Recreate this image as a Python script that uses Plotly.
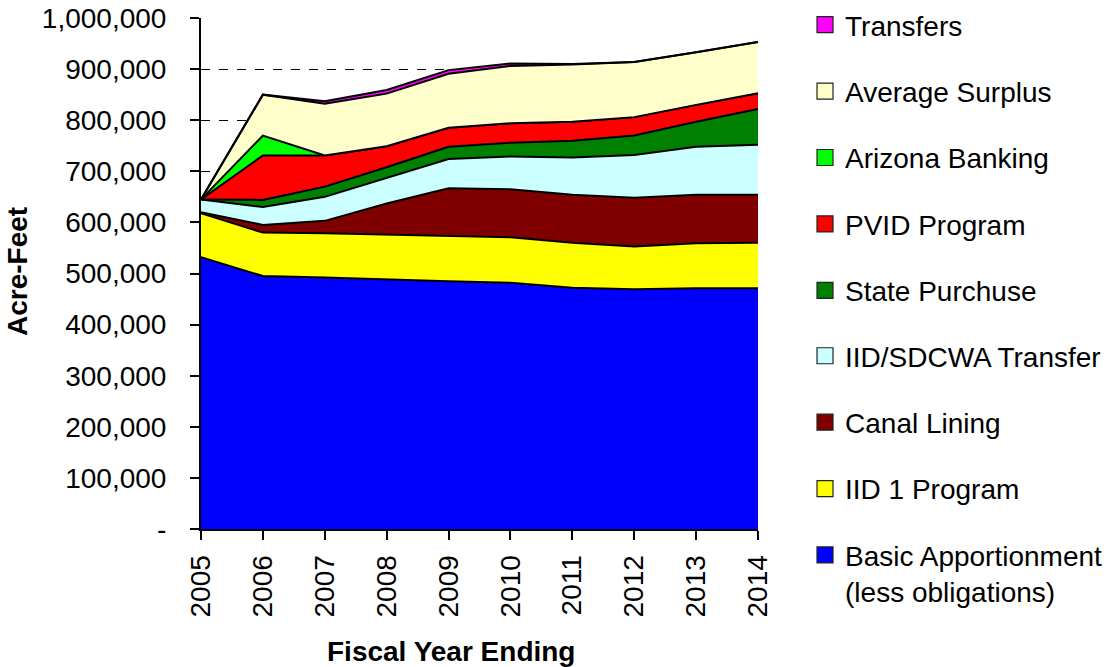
import plotly.graph_objects as go

years = [2005, 2006, 2007, 2008, 2009, 2010, 2011, 2012, 2013, 2014]

basic = [532000, 495000, 492000, 488000, 485000, 482000, 472000, 469000, 471000, 471000]
iid1 = [86000, 85000, 87000, 88000, 88000, 89000, 88000, 84000, 88000, 89000]
canal = [2000, 15000, 24000, 61000, 94000, 94000, 94000, 95000, 95000, 94000]
iid_sdcwa = [25000, 35000, 47000, 50000, 57000, 64000, 73000, 84000, 94000, 98000]
state_purchase = [0, 14000, 20000, 21000, 24000, 27000, 33000, 38000, 49000, 70000]
pvid = [0, 87000, 61000, 41000, 37000, 38000, 37000, 36000, 33000, 31000]
az_banking = [0, 39000, 0, 0, 0, 0, 0, 0, 0, 0]
avg_surplus = [0, 80000, 101000, 103000, 106000, 112000, 112000, 108000, 103000, 100000]
transfers = [0, 0, 5000, 7000, 7000, 5000, 1000, 0, 0, 0]

series_names = ["Basic Apportionment<br>(less obligations)", "IID 1 Program", "Canal Lining",
                "IID/SDCWA Transfer", "State Purchuse", "PVID Program", "Arizona Banking",
                "Average Surplus", "Transfers"]
series_values = [basic, iid1, canal, iid_sdcwa, state_purchase, pvid, az_banking, avg_surplus, transfers]
series_colors = ["#0000FF", "#FFFF00", "#800000", "#CCFFFF", "#008000", "#FF0000", "#00FF00",
                 "#FFFFCC", "#FF00FF"]

y_tickvals = [0, 100000, 200000, 300000, 400000, 500000, 600000, 700000, 800000, 900000, 1000000]
y_ticktext = ["-", "100,000", "200,000", "300,000", "400,000", "500,000", "600,000", "700,000",
              "800,000", "900,000", "1,000,000"]

FONT = "Liberation Sans, Arial, sans-serif"

fig = go.Figure()

for name, vals, col in zip(series_names, series_values, series_colors):
    fig.add_trace(go.Scatter(
        x=years, y=vals, name=name, mode="lines", stackgroup="one",
        line=dict(color="black", width=2), fillcolor=col, showlegend=False,
        hoverinfo="x+y+name",
    ))

# legend entries (square swatches), top to bottom, split across two legends
for i, (name, col) in enumerate(zip(series_names[::-1], series_colors[::-1])):
    fig.add_trace(go.Scatter(
        x=[None], y=[None], name=name, mode="markers",
        marker=dict(symbol="square", size=16, color=col, line=dict(color="#222222", width=1.2)),
        legendgroup="g%d" % i, showlegend=True,
        legend="legend" if i < 5 else "legend2",
    ))

legend_common = dict(
    x=1.0844, xanchor="left", yanchor="top", yref="container",
    traceorder="grouped", tracegroupgap=27, valign="top",
    font=dict(family=FONT, size=28, color="black"),
    bgcolor="rgba(0,0,0,0)",
)

fig.update_layout(
    width=1112, height=667,
    margin=dict(l=201, r=354, t=18, b=138, autoexpand=False),
    paper_bgcolor="white", plot_bgcolor="white",
    font=dict(family=FONT, size=28, color="black"),
    showlegend=True,
    legend=dict(y=1.0, **legend_common),
    legend2=dict(y=0.5037, **legend_common),
    xaxis=dict(
        range=[2005, 2014], tickvals=years, ticktext=[str(y) for y in years],
        tickangle=-90, ticks="outside", ticklen=9, tickwidth=2, tickcolor="black",
        showline=True, linecolor="black", linewidth=2, showgrid=False, zeroline=False,
        tickfont=dict(family=FONT, size=28), ticklabelstandoff=4,
    ),
    yaxis=dict(
        range=[0, 1000000], tickvals=y_tickvals, ticktext=y_ticktext,
        ticks="outside", ticklen=9, tickwidth=2, tickcolor="black",
        showline=True, linecolor="black", linewidth=2,
        showgrid=True, gridcolor="black", gridwidth=1, griddash="dash", zeroline=False,
        tickfont=dict(family=FONT, size=28), ticklabelstandoff=18,
    ),
    annotations=[
        dict(text="<b>Acre-Feet</b>", xref="paper", yref="paper", x=-0.3285, y=0.503,
             xanchor="center", yanchor="middle", textangle=-90, showarrow=False,
             font=dict(family=FONT, size=28, color="black")),
        dict(text="<b>Fiscal Year Ending</b>", xref="paper", yref="paper", x=0.4488, y=-0.2407,
             xanchor="center", yanchor="middle", showarrow=False,
             font=dict(family=FONT, size=28, color="black")),
    ],
)

fig.write_html("out.html", config={"displayModeBar": False},
               post_script="document.body.style.margin='0';")
